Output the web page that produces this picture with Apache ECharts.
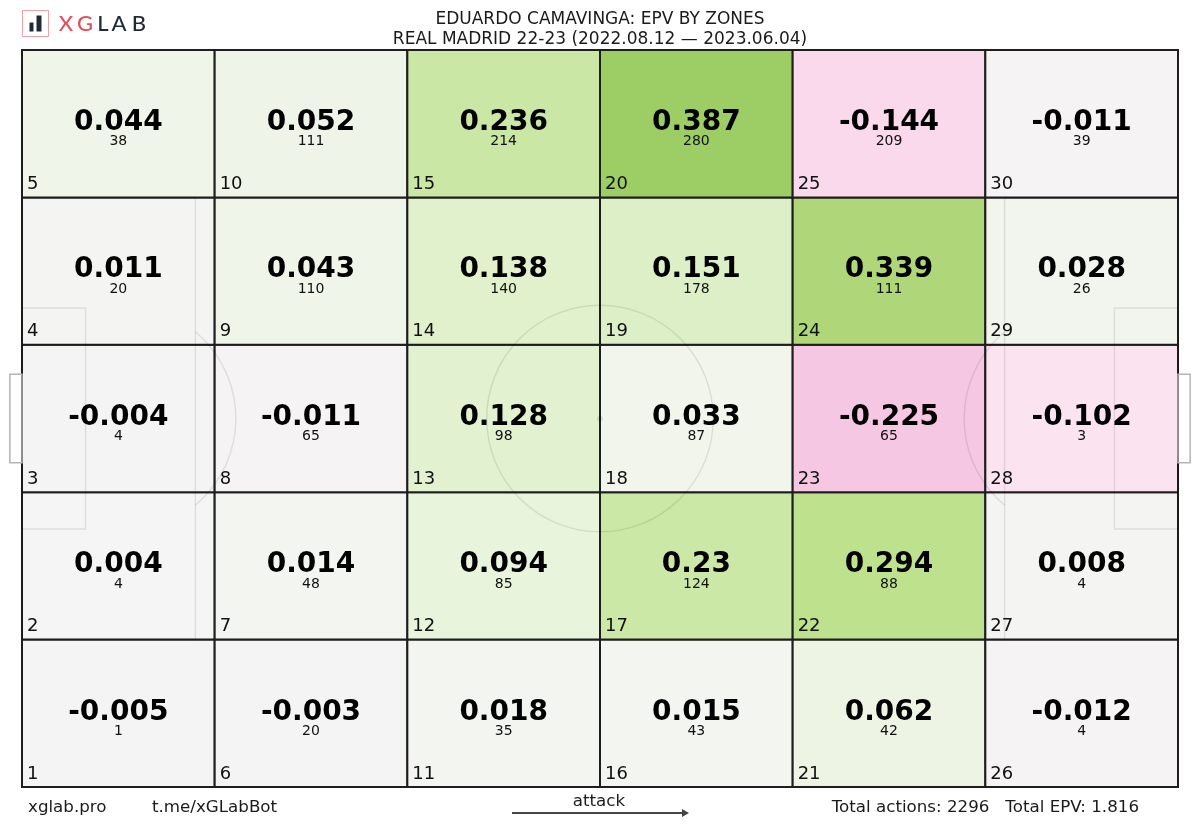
<!DOCTYPE html>
<html>
<head>
<meta charset="utf-8">
<script src="https://cdn.jsdelivr.net/npm/echarts@6.0.0/dist/echarts.min.js"></script>
<style>
  html, body { margin: 0; padding: 0; background: #ffffff; }
  #chart { width: 1200px; height: 828px; }
</style>
</head>
<body>
<div id="chart"></div>
<script>
// ---- data ----
const titleLine1 = 'EDUARDO CAMAVINGA: EPV BY ZONES';
const titleLine2 = 'REAL MADRID 22-23 (2022.08.12 — 2023.06.04)';
const zones   = [1, 2, 3, 4, 5, 6, 7, 8, 9, 10, 11, 12, 13, 14, 15, 16, 17, 18, 19, 20, 21, 22, 23, 24, 25, 26, 27, 28, 29, 30];
const epv     = [-0.005, 0.004, -0.004, 0.011, 0.044,
                 -0.003, 0.014, -0.011, 0.043, 0.052,
                 0.018, 0.094, 0.128, 0.138, 0.236,
                 0.015, 0.23, 0.033, 0.151, 0.387,
                 0.062, 0.294, -0.225, 0.339, -0.144,
                 -0.012, 0.008, -0.102, 0.028, -0.011];
const actions = [1, 4, 4, 20, 38,
                 20, 48, 65, 110, 111,
                 35, 85, 98, 140, 214,
                 43, 124, 87, 178, 280,
                 42, 88, 65, 111, 209,
                 4, 4, 3, 26, 39];
const nCols = 6, nRows = 5;
const totalEPVLabel = '1.816';
const colorStops = ['#ea9fcb', '#f1b6da', '#f7cde5', '#fbe3f0', '#f5f5f5', '#e8f4da', '#d3ebb3', '#bde08c', '#98ca5f'];

const cellData = zones.map((z, i) => [Math.floor((z - 1) / nRows), (z - 1) % nRows, epv[i], actions[i], z]);
const totalActions = actions.reduce((a, b) => a + b, 0);

const chart = echarts.init(document.getElementById('chart'));

function renderCell(params, api) {
  const col = api.value(0), row = api.value(1);
  const tl = api.coord([col, row + 1]);
  const br = api.coord([col + 1, row]);
  const w = br[0] - tl[0], h = br[1] - tl[1];
  const cx = tl[0] + w / 2, cy = tl[1] + h / 2;
  return {
    type: 'group',
    children: [
      { type: 'rect', shape: { x: tl[0], y: tl[1], width: w, height: h },
        style: { fill: api.visual('color'), stroke: '#1e1e1e', lineWidth: 2 } },
      { type: 'text', x: cx, y: cy - 1, z2: 10,
        style: { text: String(api.value(2)), font: 'bold 28px "DejaVu Sans"', fill: '#000', align: 'center', verticalAlign: 'middle' } },
      { type: 'text', x: cx, y: cy + 18, z2: 10,
        style: { text: String(api.value(3)), font: '14px "DejaVu Sans"', fill: '#111', align: 'center', verticalAlign: 'middle' } },
      { type: 'text', x: tl[0] + 5, y: br[1] - 13, z2: 10,
        style: { text: String(api.value(4)), font: '18px "DejaVu Sans"', fill: '#111', align: 'left', verticalAlign: 'middle' } }
    ]
  };
}

function renderPitch(params, api) {
  const faint = 'rgba(0,0,0,0.09)';
  const goalC = '#b5b5b5';
  function rect(x0, y0, x1, y1, stroke) {
    const a = api.coord([x0, y1]), b = api.coord([x1, y0]);
    return { type: 'rect', shape: { x: a[0], y: a[1], width: b[0] - a[0], height: b[1] - a[1] },
             style: { fill: 'none', stroke: stroke, lineWidth: 1.5 } };
  }
  const c = api.coord([50, 50]);
  const r = api.size([9.8, 0])[0];
  const lSpot = api.coord([8.7, 50]);
  const rSpot = api.coord([91.3, 50]);
  const dL = api.coord([15, 50])[0] - lSpot[0];
  const th = Math.acos(dL / r);
  return {
    type: 'group',
    children: [
      rect(0, 20, 15, 80, faint),
      rect(85, 20, 100, 80, faint),
      rect(0, 35, 5.5, 65, faint),
      rect(94.5, 35, 100, 65, faint),
      rect(-1.05, 44, 0, 56, goalC),
      rect(100, 44, 101.05, 56, goalC),
      { type: 'circle', shape: { cx: c[0], cy: c[1], r: r }, style: { fill: 'none', stroke: faint, lineWidth: 1.5 } },
      { type: 'circle', shape: { cx: c[0], cy: c[1], r: 3 }, style: { fill: faint } },
      { type: 'arc', shape: { cx: lSpot[0], cy: lSpot[1], r: r, startAngle: -th, endAngle: th, clockwise: true },
        style: { fill: 'none', stroke: faint, lineWidth: 1.5 } },
      { type: 'arc', shape: { cx: rSpot[0], cy: rSpot[1], r: r, startAngle: Math.PI - th, endAngle: Math.PI + th, clockwise: true },
        style: { fill: 'none', stroke: faint, lineWidth: 1.5 } }
    ]
  };
}

const footFont = '16.7px "DejaVu Sans"';

const option = {
  backgroundColor: '#ffffff',
  animation: false,
  title: {
    text: titleLine1 + '\n' + titleLine2,
    left: 'center',
    top: 5,
    textStyle: { fontFamily: 'DejaVu Sans', fontSize: 17, fontWeight: 'normal', color: '#1a1a1a', lineHeight: 20 }
  },
  grid: { left: 22, right: 22, top: 50, bottom: 41 },
  xAxis: [
    { type: 'value', min: 0, max: nCols, show: false },
    { type: 'value', min: 0, max: 100, show: false }
  ],
  yAxis: [
    { type: 'value', min: 0, max: nRows, show: false },
    { type: 'value', min: 0, max: 100, show: false }
  ],
  visualMap: {
    show: false,
    type: 'continuous',
    seriesIndex: 0,
    dimension: 2,
    min: -0.4,
    max: 0.4,
    inRange: { color: colorStops }
  },
  series: [
    {
      type: 'custom',
      xAxisIndex: 0, yAxisIndex: 0,
      renderItem: renderCell,
      data: cellData,
      z: 2,
      silent: true
    },
    {
      type: 'custom',
      xAxisIndex: 1, yAxisIndex: 1,
      renderItem: renderPitch,
      data: [[0, 0]],
      clip: false,
      z: 3,
      silent: true
    }
  ],
  graphic: [
    { type: 'rect', shape: { x: 22.5, y: 10.5, width: 26, height: 26 }, style: { fill: 'none', stroke: '#e9a3aa', lineWidth: 1 } },
    { type: 'rect', shape: { x: 29.5, y: 22.5, width: 4, height: 9 }, style: { fill: '#1f2a37' } },
    { type: 'rect', shape: { x: 36.5, y: 15.5, width: 5, height: 16 }, style: { fill: '#1f2a37' } },
    { type: 'text', x: 66, y: 24, style: { text: 'X', font: '500 22px Lato', fill: '#e2505c', align: 'center', verticalAlign: 'middle' } },
    { type: 'text', x: 85, y: 24, style: { text: 'G', font: '500 22px Lato', fill: '#e2505c', align: 'center', verticalAlign: 'middle' } },
    { type: 'text', x: 103, y: 24, style: { text: 'L', font: '500 22px Lato', fill: '#1f2a37', align: 'center', verticalAlign: 'middle' } },
    { type: 'text', x: 119, y: 24, style: { text: 'A', font: '500 22px Lato', fill: '#1f2a37', align: 'center', verticalAlign: 'middle' } },
    { type: 'text', x: 139, y: 24, style: { text: 'B', font: '500 22px Lato', fill: '#1f2a37', align: 'center', verticalAlign: 'middle' } },

    { type: 'text', x: 28, y: 808, style: { text: 'xglab.pro', font: footFont, fill: '#1a1a1a', align: 'left', verticalAlign: 'middle' } },
    { type: 'text', x: 152, y: 808, style: { text: 't.me/xGLabBot', font: footFont, fill: '#1a1a1a', align: 'left', verticalAlign: 'middle' } },
    { type: 'text', x: 599, y: 802, style: { text: 'attack', font: footFont, fill: '#1a1a1a', align: 'center', verticalAlign: 'middle' } },
    { type: 'line', shape: { x1: 512, y1: 813, x2: 684, y2: 813 }, style: { stroke: '#444', lineWidth: 2 } },
    { type: 'polygon', shape: { points: [[682, 809], [689, 813], [682, 817]] }, style: { fill: '#444' } },
    { type: 'text', x: 1139, y: 808, style: { text: 'Total actions: ' + totalActions + '   Total EPV: ' + totalEPVLabel, font: footFont, fill: '#1a1a1a', align: 'right', verticalAlign: 'middle' } }
  ]
};

chart.setOption(option);
</script>
</body>
</html>
